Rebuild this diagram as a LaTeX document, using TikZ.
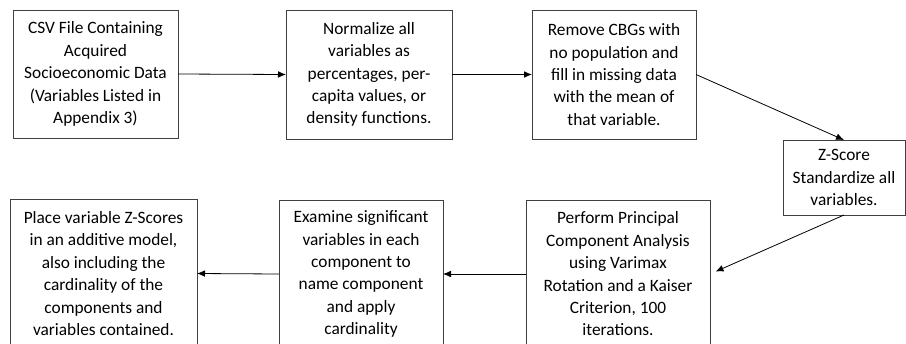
\documentclass[tikz,border=0pt]{standalone}
\usepackage{fontspec}
\setmainfont{Carlito}
\usetikzlibrary{arrows.meta}
\begin{document}
\begin{tikzpicture}[x=0.75pt,y=-0.75pt,font=\fontsize{13}{16.8}\selectfont,
  process/.style={draw=black!75,line width=0.75pt,align=center,inner sep=0pt,outer sep=0pt},
  flow/.style={line width=0.6pt,-{Latex[length=6pt,width=5pt]}}]

\useasboundingbox (0,0) rectangle (906,343);

% top row
\node [process,minimum width=0.75*165,minimum height=0.75*128] (csv) at (95.5,74) {CSV File Containing\\Acquired\\Socioeconomic Data\\(Variables Listed in\\Appendix 3)};
\node [process,minimum width=0.75*166,minimum height=0.75*129] (norm) at (369,74.5) {Normalize all\\variables as\\percentages, per-\\capita values, or\\density functions.};
\node [process,minimum width=0.75*164,minimum height=0.75*129] (clean) at (614,74.5) {Remove CBGs with\\no population and\\fill in missing data\\with the mean of\\that variable.};
% z-score
\node [process,minimum width=0.75*122,minimum height=0.75*75] (zscore) at (844,177.5) {Z-Score\\Standardize all\\variables.};
% bottom row
\node [process,minimum width=0.75*184,minimum height=0.75*148] (pca) at (618,274) {Perform Principal\\Component Analysis\\using Varimax\\Rotation and a Kaiser\\Criterion, 100\\iterations.};
\node [process,minimum width=0.75*164,minimum height=0.75*148] (exam) at (361,274) {Examine significant\\variables in each\\component to\\name component\\and apply\\cardinality};
\node [process,minimum width=0.75*187,minimum height=0.75*149] (model) at (103.5,273.5) {Place variable Z-Scores\\in an additive model,\\also including the\\cardinality of the\\components and\\variables contained.};

% arrows
\draw [flow] (csv.east) -- (norm.west);
\draw [flow] (norm.east) -- (clean.west);
\draw [flow] (clean.east) -- (zscore.north);
\draw [flow,shorten >=4.5pt] (zscore.south) -- (pca.east);
\draw [flow] (pca.west) -- (exam.east);
\draw [flow] (exam.west) -- (model.east);

\end{tikzpicture}
\end{document}
